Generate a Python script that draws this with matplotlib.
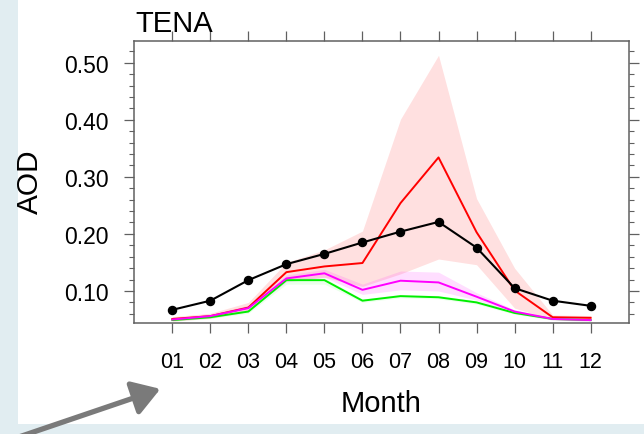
import numpy as np
import matplotlib
matplotlib.use("Agg")
import matplotlib.pyplot as plt
import matplotlib.patches as mpatches
from matplotlib.ticker import MultipleLocator, FormatStrFormatter

plt.rcParams['font.family'] = ['Liberation Sans', 'DejaVu Sans']

# monthly AOD, region TENA
months = np.arange(1, 13)
month_labels = ["01", "02", "03", "04", "05", "06", "07", "08", "09", "10", "11", "12"]

obs = [0.067, 0.083, 0.119, 0.147, 0.165, 0.185, 0.204, 0.221, 0.176, 0.105, 0.083, 0.074]

red = [0.051, 0.056, 0.071, 0.133, 0.143, 0.149, 0.254, 0.334, 0.203, 0.101, 0.054, 0.053]
red_lo = [0.047, 0.052, 0.064, 0.118, 0.124, 0.108, 0.130, 0.156, 0.146, 0.070, 0.050, 0.050]
red_hi = [0.055, 0.061, 0.080, 0.150, 0.172, 0.205, 0.401, 0.513, 0.262, 0.140, 0.058, 0.057]

mag = [0.050, 0.056, 0.070, 0.122, 0.131, 0.102, 0.118, 0.115, 0.090, 0.064, 0.051, 0.049]
mag_lo = [0.048, 0.053, 0.066, 0.116, 0.124, 0.094, 0.102, 0.100, 0.084, 0.061, 0.049, 0.047]
mag_hi = [0.052, 0.059, 0.075, 0.128, 0.138, 0.112, 0.135, 0.133, 0.097, 0.067, 0.053, 0.051]

green = [0.049, 0.054, 0.064, 0.119, 0.119, 0.083, 0.091, 0.089, 0.080, 0.0615, 0.051, 0.049]
green_lo = [0.047, 0.052, 0.061, 0.112, 0.112, 0.080, 0.088, 0.086, 0.077, 0.059, 0.049, 0.047]
green_hi = [0.051, 0.056, 0.067, 0.123, 0.123, 0.086, 0.094, 0.092, 0.083, 0.064, 0.053, 0.051]

fig = plt.figure(figsize=(6.44, 4.35), dpi=100)
fig.patch.set_facecolor('#e1edf1')
# white slide panel behind everything
fig.patches.append(mpatches.Rectangle((18/644, 10/435), 1.0, 1.0, transform=fig.transFigure,
                                      facecolor='white', edgecolor='none', zorder=-5))

ax = fig.add_axes([0.2085, 0.2545, 0.7677, 0.6496])
ax.set_zorder(1)

ax.fill_between(months, red_lo, red_hi, color='#ff0000', alpha=0.12, lw=0)
ax.fill_between(months, mag_lo, mag_hi, color='#ff00ff', alpha=0.13, lw=0)
ax.fill_between(months, green_lo, green_hi, color='#00ff00', alpha=0.08, lw=0)

ax.plot(months, red, color='#ff0000', lw=1.4)
ax.plot(months, green, color='#00ee00', lw=1.4)
ax.plot(months, mag, color='#ff00ff', lw=1.4)
ax.plot(months, obs, color='black', lw=1.5, marker='o', ms=5.8)

ax.set_xlim(0, 13)
ax.set_ylim(0.0434, 0.5385)
ax.set_xticks(months)
ax.set_xticklabels(month_labels)
ax.yaxis.set_major_locator(MultipleLocator(0.1))
ax.yaxis.set_minor_locator(MultipleLocator(0.02))
ax.yaxis.set_major_formatter(FormatStrFormatter('%.2f'))

for s in ax.spines.values():
    s.set_color('#606060')
    s.set_linewidth(1.1)
ax.tick_params(axis='x', which='major', direction='out', length=7.2, width=0.9,
               color='#606060', top=True, bottom=True, labelsize=15.5, pad=13)
ax.tick_params(axis='y', which='major', direction='out', length=7.2, width=0.9,
               color='#606060', left=True, right=True, labelsize=16.5, pad=11)
ax.tick_params(axis='y', which='minor', direction='out', length=3.6, width=0.8,
               color='#606060', left=True, right=True)

fig.text(135/644, 1 - 31.7/435, "TENA", fontsize=21, ha='left', va='baseline', zorder=3)
fig.text(381.5/644, 1 - 411.7/435, "Month", fontsize=21, ha='center', va='baseline', zorder=3)
fig.text(0.047, 1 - 182/435, "AOD", fontsize=21.5, ha='center', va='center', rotation=90, zorder=3)

arrow = mpatches.FancyArrowPatch((10/644, -6/435), (163/644, 1 - 389/435),
                                 transform=fig.transFigure, arrowstyle='-|>,head_length=11,head_width=7',
                                 color='#7a7a7a', lw=3.8, mutation_scale=1.5, zorder=3)
fig.patches.append(arrow)

fig.savefig("out.png", dpi=100, facecolor=fig.get_facecolor())
